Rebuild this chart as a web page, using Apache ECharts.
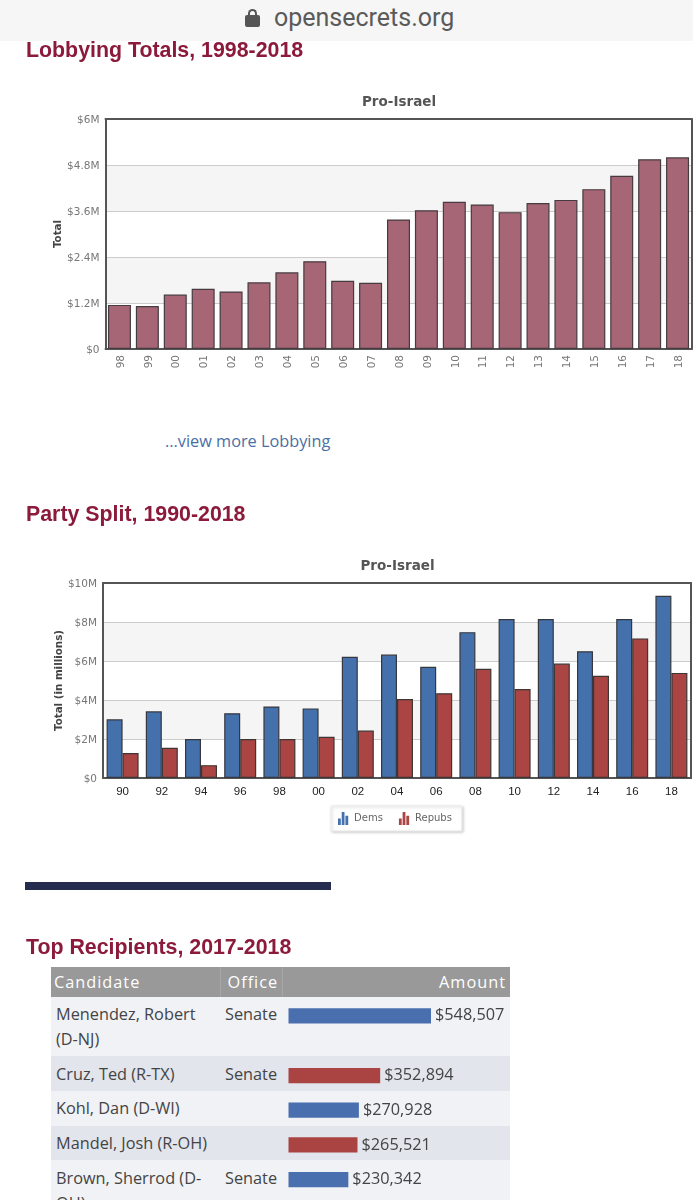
<!DOCTYPE html>
<html>
<head>
<meta charset="utf-8">
<title>Pro-Israel</title>
<style>
html, body { margin: 0; padding: 0; background: #fff; }
body { position: relative; width: 693px; height: 1200px; overflow: hidden; font-family: "Open Sans", sans-serif; }
.chart { position: absolute; left: 0; top: 0; width: 693px; }
.topbar { position: absolute; left: 0; top: 0; width: 693px; height: 41px; background: #f6f6f6; z-index: 3; }
.url { position: absolute; left: 274px; top: 0; font: 25px/36px Roboto, sans-serif; color: #5a5a5a; }
.lock { position: absolute; left: 245px; top: 9px; width: 15px; height: 18px; }
.lock i { position: absolute; left: 0; bottom: 0; width: 15px; height: 12px; background: #555; border-radius: 2px; }
.lock b { position: absolute; left: 3px; top: 0; width: 5px; height: 8px; border: 2px solid #555; border-bottom: 0; border-radius: 5px 5px 0 0; }
h2 { position: absolute; left: 26px; margin: 0; font: bold 21.35px/26px "Liberation Sans", sans-serif; color: #8b1a3b; white-space: nowrap; z-index: 4; }
.more { position: absolute; left: 165px; top: 430px; font-size: 16.3px; line-height: 23px; color: #4a6fa5; }
.rule { position: absolute; left: 25px; top: 882px; width: 306px; height: 8px; background: #252c4e; }
table { position: absolute; left: 51px; top: 966.7px; width: 459px; border-collapse: collapse; table-layout: fixed; font-size: 16.3px; color: #444; }
th { background: #999; color: #fff; font-weight: 500; text-align: left; height: 30px; padding: 0 3px; letter-spacing: 1px; border-right: 1px solid #a6a6a6; }
th:last-child { text-align: right; border-right: 0; }
td { padding: 5.2px 5px 4.5px; line-height: 25px; vertical-align: top; }
tr.odd td { background: #f0f2f6; }
tr.even td { background: #e2e5ec; }
#barsChart { z-index: 2; }
</style>
</head>
<body>
<div class="topbar">
  <div class="lock"><b></b><i></i></div>
  <div class="url">opensecrets.org</div>
</div>
<h2 style="top:37px">Lobbying Totals, 1998-2018</h2>
<div id="lobbyChart" class="chart" style="height:420px"></div>
<div class="more">...view more Lobbying</div>
<h2 style="top:501px">Party Split, 1990-2018</h2>
<div id="partyChart" class="chart" style="height:860px"></div>
<div class="rule"></div>
<h2 style="top:934px">Top Recipients, 2017-2018</h2>
<table id="recipientTable"></table>
<div id="barsChart" class="chart" style="height:1200px"></div>

<script src="https://cdn.jsdelivr.net/npm/echarts@6/dist/echarts.min.js"></script>
<script>
// 游说总额 (单位: 百万)
var lobbyYears = ['98', '99', '00', '01', '02', '03', '04', '05', '06', '07', '08', '09', '10', '11', '12', '13', '14', '15', '16', '17', '18'];
var lobbyTotals = [1.15, 1.12, 1.42, 1.57, 1.50, 1.74, 2.00, 2.29, 1.78, 1.73, 3.38, 3.62, 3.84, 3.77, 3.57, 3.81, 3.89, 4.17, 4.52, 4.95, 5.00];

// 两党分布 (单位: 百万)
var partyYears = ['90', '92', '94', '96', '98', '00', '02', '04', '06', '08', '10', '12', '14', '16', '18'];
var demsTotals = [3.01, 3.42, 2.00, 3.32, 3.67, 3.57, 6.22, 6.33, 5.70, 7.48, 8.15, 8.15, 6.50, 8.15, 9.35];
var repubsTotals = [1.28, 1.55, 0.66, 2.00, 2.00, 2.11, 2.43, 4.05, 4.35, 5.60, 4.56, 5.87, 5.24, 7.16, 5.39];

// 收款人表格
var candidates = ['Menendez, Robert (D-NJ)', 'Cruz, Ted (R-TX)', 'Kohl, Dan (D-WI)', 'Mandel, Josh (R-OH)', 'Brown, Sherrod (D-OH)'];
var offices = ['Senate', 'Senate', '', '', 'Senate'];
var amounts = [548507, 352894, 270928, 265521, 230342];
var parties = ['D', 'R', 'D', 'R', 'D'];

var PARTY_COLOR = { D: '#4a6fae', R: '#a94442' };
var LEGEND_ICON = 'path://M0 7h3v7H0z M4 0h3v14H4z M8 4h3v10H8z';
var FRAME_LINE = { show: true, onZero: false, lineStyle: { color: '#555', width: 2 } };

// 图表公共配置
function baseOption(gridLeft, gridRight, gridTop, gridHeight, titleLeft, titleTop, yName, nameGap, interval, max) {
	return {
		animation: false,
		title: {
			text: 'Pro-Israel',
			left: titleLeft,
			top: titleTop,
			textAlign: 'center',
			textStyle: { fontFamily: 'DejaVu Sans', fontSize: 13.5, fontWeight: 'bold', color: '#555' }
		},
		grid: { left: gridLeft, right: gridRight, top: gridTop, height: gridHeight },
		yAxis: [{
			type: 'value',
			min: 0,
			max: max,
			interval: interval,
			name: yName,
			nameLocation: 'middle',
			nameRotate: 90,
			nameGap: nameGap,
			nameMoveOverlap: false,
			nameTextStyle: { fontFamily: 'DejaVu Sans', fontSize: 10.3, fontWeight: 'bold', color: '#444' },
			axisLine: FRAME_LINE,
			axisTick: { show: false },
			axisLabel: {
				fontFamily: 'DejaVu Sans',
				fontSize: 10.5,
				color: '#777',
				margin: 6,
				// 标签比刻度线略低一点
				verticalAlign: 'top',
				lineHeight: 3,
				formatter: function(v) {
					return v === 0 ? '$0' : '$' + v + 'M';
				}
			},
			splitLine: { lineStyle: { color: '#ccc', width: 1 } },
			splitArea: { show: true, areaStyle: { color: ['#fff', '#f5f5f5'] } }
		}, {
			// 右边框
			type: 'value',
			position: 'right',
			min: 0,
			max: max,
			interval: interval,
			axisLine: FRAME_LINE,
			axisTick: { show: false },
			axisLabel: { show: false },
			splitLine: { show: false }
		}]
	};
}

// x 轴: 底部显示标签, 顶部只画边框
function xAxes(years, labelStyle) {
	return [{
		type: 'category',
		data: years,
		axisLine: FRAME_LINE,
		axisTick: { show: false },
		axisLabel: labelStyle
	}, {
		type: 'category',
		position: 'top',
		data: years,
		axisLine: FRAME_LINE,
		axisTick: { show: false },
		axisLabel: { show: false }
	}];
}

// 绘制游说总额柱状图
function renderLobby() {
	var chart = echarts.init(document.getElementById('lobbyChart'));
	var option = baseOption(105.5, 1.5, 119, 230, 394, 90, 'Total', 42, 1.2, 6);
	option.xAxis = xAxes(lobbyYears, { fontFamily: 'DejaVu Sans', fontSize: 10.5, color: '#777', rotate: 90, margin: 6, verticalAlign: 'top', lineHeight: 3 });
	option.series = [{
		type: 'bar',
		data: lobbyTotals,
		barWidth: 23,
		itemStyle: { color: '#a66675', borderColor: '#453b40', borderWidth: 1.2 }
	}];
	chart.setOption(option);
}

// 绘制两党分布柱状图
function renderParty() {
	var chart = echarts.init(document.getElementById('partyChart'));
	var option = baseOption(103, 2, 583, 195, 392.5, 554, 'Total (in millions)', 39, 2, 10);
	option.xAxis = xAxes(partyYears, { fontFamily: 'Liberation Sans', fontSize: 11.5, color: '#222', margin: 8 });
	option.legend = {
		left: 331,
		top: 806,
		orient: 'horizontal',
		padding: [6, 10, 6, 7],
		itemWidth: 12,
		itemHeight: 13,
		itemGap: 16,
		backgroundColor: '#fff',
		borderColor: '#ececec',
		borderWidth: 1,
		shadowColor: 'rgba(0,0,0,0.2)',
		shadowBlur: 3,
		shadowOffsetX: 1,
		shadowOffsetY: 1,
		textStyle: { fontFamily: 'DejaVu Sans', fontSize: 10, color: '#666' },
		data: [{
			name: 'Dems',
			icon: LEGEND_ICON,
			itemStyle: { color: '#4470ac', borderWidth: 0 }
		}, {
			name: 'Repubs',
			icon: LEGEND_ICON,
			itemStyle: { color: '#aa4543', borderWidth: 0 }
		}]
	};
	option.series = [{
		name: 'Dems',
		type: 'bar',
		data: demsTotals,
		barWidth: 16,
		barGap: 0,
		itemStyle: { color: '#4470ac', borderColor: '#37383f', borderWidth: 1.2 }
	}, {
		name: 'Repubs',
		type: 'bar',
		data: repubsTotals,
		barWidth: 16,
		barGap: 0,
		itemStyle: { color: '#aa4543', borderColor: '#3f3534', borderWidth: 1.2 }
	}];
	chart.setOption(option);
}

// 绘制表格
function renderTable() {
	var html = '<colgroup><col style="width:169px"><col style="width:62px"><col></colgroup>';
	html += '<tr><th>Candidate</th><th style="padding-left:7px">Office</th><th style="padding-right:4px">Amount</th></tr>';
	for (var i = 0; i < candidates.length; ++i) {
		html += '<tr class="' + (i % 2 ? 'even' : 'odd') + '">';
		html += '<td>' + candidates[i] + '</td>';
		html += '<td>' + offices[i] + '</td>';
		html += '<td></td>';
		html += '</tr>';
	}
	document.getElementById('recipientTable').innerHTML = html;
}

function formatAmount(v) {
	return '$' + String(v).replace(/\B(?=(\d{3})+$)/g, ',');
}

// 表格内的金额条: 每行一个 grid, 共用同一比例尺
function renderBars() {
	var chart = echarts.init(document.getElementById('barsChart'));
	var table = document.getElementById('recipientTable');
	var rows = table.querySelectorAll('tr');
	var option = { animation: false, grid: [], xAxis: [], yAxis: [], series: [] };

	for (var i = 0; i < amounts.length; ++i) {
		var cell = rows[i + 1].children[2].getBoundingClientRect();
		option.grid.push({ left: 288.5, top: cell.top + 11.5, width: 142.5, height: 15.3 });
		option.xAxis.push({ type: 'value', gridIndex: i, min: 0, max: amounts[0], show: false });
		option.yAxis.push({ type: 'category', gridIndex: i, data: [candidates[i]], show: false });
		option.series.push({
			type: 'bar',
			xAxisIndex: i,
			yAxisIndex: i,
			data: [amounts[i]],
			barWidth: '100%',
			itemStyle: { color: PARTY_COLOR[parties[i]] },
			label: {
				show: true,
				position: 'right',
				distance: 4,
				fontFamily: 'Open Sans',
				fontSize: 16.3,
				color: '#444',
				formatter: function(p) {
					return formatAmount(p.value);
				}
			}
		});
	}
	chart.setOption(option);
}

renderLobby();
renderParty();
renderTable();
renderBars();
</script>
</body>
</html>
